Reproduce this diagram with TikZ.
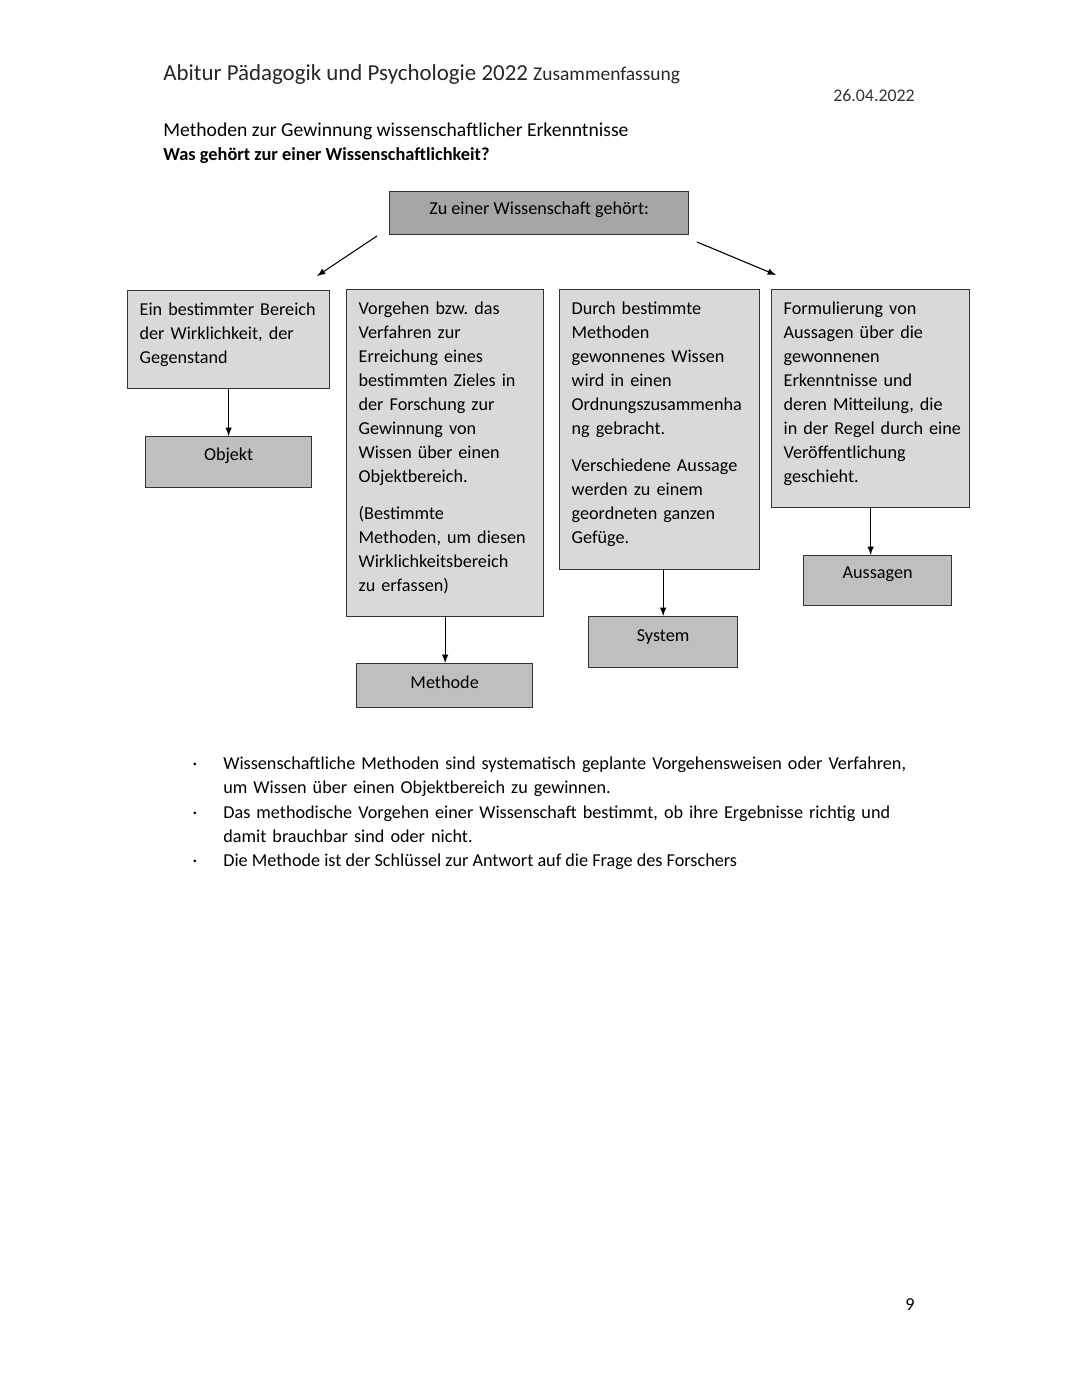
\documentclass[tikz,border=0pt]{standalone}
\usepackage{fontspec}
\setmainfont{Carlito}
\definecolor{topgray}{HTML}{A6A6A6}
\definecolor{termgray}{HTML}{BFBFBF}
\definecolor{infogray}{HTML}{D9D9D9}
\tikzset{
  frame/.style = {shape=rectangle, draw=black!80, line width=0.7pt,
                  inner ysep=0pt,
                  font=\fontsize{10}{13.2}\selectfont},
  topic/.style = {frame, fill=topgray, inner xsep=0pt,
                  anchor=north west},
  info/.style  = {frame, fill=infogray, inner xsep=6.6pt,
                  anchor=north west, align=left,
                  text height=13.5pt},
  term/.style  = {frame, fill=termgray, inner xsep=0pt,
                  anchor=north west},
  link/.style  = {draw, -latex, line width=0.6pt},
  plain/.style = {inner sep=0pt, anchor=base west,
                  font=\fontsize{10}{13.2}\selectfont}
}
\begin{document}
\hyphenpenalty=10000
\frenchspacing
\begin{tikzpicture}[x=0.55pt, y=-0.55pt]
  \useasboundingbox (0,0) rectangle (1080,1397);
  % page head
  \node [plain, text=black!85] (titel) at (163,81)
    {\fontsize{12.6}{15}\selectfont Abitur Pädagogik und Psychologie 2022
     \fontsize{10.7}{13}\selectfont Zusammenfassung};
  \node [plain, anchor=base east, font=\fontsize{9.8}{12}\selectfont,
         text=black!80] (datum) at (915,102) {26.04.2022};
  \node [plain, font=\fontsize{10.8}{13}\selectfont] (thema) at (163,137)
    {Methoden zur Gewinnung wissenschaftlicher Erkenntnisse};
  \node [plain, font=\fontsize{10.1}{13}\bfseries] (frage) at (163,161)
    {Was gehört zur einer Wissenschaftlichkeit?};
  % diagram
  \node [topic, minimum width=164.45pt, text height=12.65pt, text depth=11pt]
    (gehoert) at (389,191) {Zu einer Wissenschaft gehört:};
  \coordinate (lstart) at (377,236);
  \coordinate (lend)   at (317,276);
  \coordinate (rstart) at (697,242);
  \coordinate (rend)   at (776,275);
  \draw [link] (lstart) -- (lend);
  \draw [link] (rstart) -- (rend);

  \node [info, text width=97.9pt, text depth=40.4pt] (bereich) at (127,290)
    {Ein bestimmter Bereich\\ der Wirklichkeit, der\\ Gegenstand};
  \node [info, text width=95.15pt, text depth=166.35pt] (vorgehen) at (346,289)
    {Vorgehen bzw. das\\ Verfahren zur\\ Erreichung eines\\ bestimmten Zieles in\\
     der Forschung zur\\ Gewinnung von\\ Wissen über einen\\ Objektbereich.\\[7.15pt]
     (Bestimmte\\ Methoden, um diesen\\ Wirklichkeitsbereich\\ zu erfassen)};
  \node [info, text width=96.8pt, text depth=140.5pt] (ordnung) at (559,289)
    {Durch bestimmte\\ Methoden\\ gewonnenes Wissen\\ wird in einen\\
     Ordnungszusammenha\\ ng gebracht.\\[7.15pt]
     Verschiedene Aussage\\ werden zu einem\\ geordneten ganzen\\ Gefüge.};
  \node [info, text width=95.7pt, text depth=106.4pt] (formulierung) at (771,289)
    {Formulierung von\\ Aussagen über die\\ gewonnenen\\ Erkenntnisse und\\
     \mbox{deren Mitteilung, die}\\ \mbox{in der Regel durch eine}\\ Veröffentlichung\\ geschieht.};

  \node [term, minimum width=91.3pt, text height=13.2pt, text depth=14.85pt]
    (objekt) at (145,436) {Objekt};
  \node [term, minimum width=96.8pt, text height=13.75pt, text depth=10.45pt]
    (methode) at (356,663) {Methode};
  \node [term, minimum width=81.95pt, text height=13.75pt, text depth=14.3pt]
    (system) at (588,616) {System};
  \node [term, minimum width=81.4pt, text height=12.65pt, text depth=14.85pt]
    (aussagen) at (803,555) {Aussagen};

  \draw [link] (bereich.south) -- (bereich.south |- objekt.north);
  \draw [link] (vorgehen.south) -- (vorgehen.south |- methode.north);
  \draw [link] (system.north |- ordnung.south) -- (system.north);
  \draw [link] (formulierung.south) -- (formulierung.south |- aussagen.north);

  % bullet points
  \foreach \y in {769,818,866}
    \node [plain, anchor=base] (punkt\y) at (195,\y) {\textperiodcentered};
  \node [plain, text width=420pt, align=left] (satz1) at (223,769)
    {Wissenschaftliche Methoden sind systematisch geplante Vorgehensweisen oder Verfahren,\\
     um Wissen über einen Objektbereich zu gewinnen.};
  \node [plain, text width=420pt, align=left] (satz2) at (223,818)
    {Das methodische Vorgehen einer Wissenschaft bestimmt, ob ihre Ergebnisse richtig und\\
     damit brauchbar sind oder nicht.};
  \node [plain] (satz3) at (223,866)
    {Die Methode ist der Schlüssel zur Antwort auf die Frage des Forschers};

  \node [plain, anchor=base] (seite) at (910,1310) {9};
\end{tikzpicture}
\end{document}
